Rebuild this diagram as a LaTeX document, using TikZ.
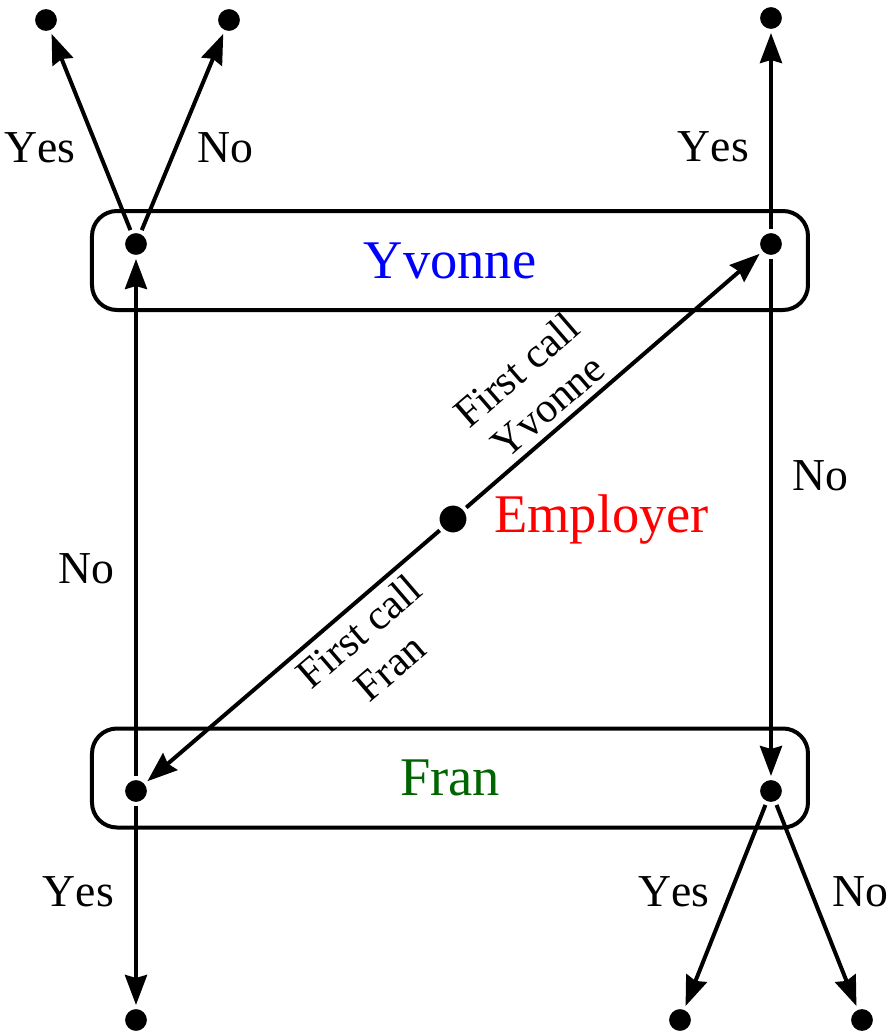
\documentclass[tikz,border=0pt]{standalone}
\usepackage{fontspec}
\IfFontExistsTF{LiberationSerif-Regular.ttf}
  {\setmainfont{LiberationSerif-Regular.ttf}[Kerning=Off]}
  {\setmainfont{Liberation Serif}[Kerning=Off]}
\usepackage{tikz}
\usetikzlibrary{arrows.meta, positioning}
\definecolor{yvblue}{HTML}{0000FF}
\definecolor{empred}{HTML}{FF0000}
\definecolor{frgreen}{HTML}{006400}

\begin{document}
\begin{tikzpicture}[
    >={Stealth[length=0.3cm, width=0.22cm, inset=0.03cm]}, line width=0.04cm,
    dot/.style={circle, fill=black, draw=white, line width=0.02cm, minimum size=0.24cm, inner sep=0pt, outer sep=0.03cm},
    bigdot/.style={dot, minimum size=0.29cm},
    playerbox/.style={rectangle, rounded corners=0.25cm, draw=black, line width=0.04cm, minimum width=7.16cm, minimum height=0.99cm, font=\fontsize{15.5}{17}\selectfont},
    lbl/.style={font=\fontsize{13}{14}\selectfont, inner sep=0.2cm},
    slbl/.style={font=\fontsize{12}{13.5}\selectfont, align=center, sloped, inner sep=2pt}
]
\useasboundingbox (0, 0) rectangle (8.89, 10.32);

% Players
\node[playerbox, text=yvblue] (ybox) at (4.50, 7.715) {Yvonne};
\node[playerbox, text=frgreen] (fbox) at (4.50, 2.54) {Fran};

% Decision nodes
\node[bigdot] (emp) at (4.53, 5.13) {};
\node[right=0.1cm of emp, text=empred, font=\fontsize{15.5}{17}\selectfont] (emplabel) {Employer};
\node[dot] (yl) at (1.36, 7.88) {};
\node[dot] (yr) at (7.71, 7.88) {};
\node[dot] (fl) at (1.36, 2.41) {};
\node[dot] (fr) at (7.71, 2.41) {};

% End nodes
\node[dot] (yyes) at (0.46, 10.12) {};
\node[dot] (yno) at (2.29, 10.12) {};
\node[dot] (yryes) at (7.71, 10.14) {};
\node[dot] (flyes) at (1.36, 0.12) {};
\node[dot] (fryes) at (6.80, 0.12) {};
\node[dot] (frno) at (8.62, 0.12) {};

% Connections
\draw[->] (emp) -- node[slbl, above, pos=0.33] {First call\\Yvonne} (yr);
\draw[->] (emp) -- node[slbl, below, pos=0.33] {First call\\Fran} (fl);

\draw[->] (fl) -- node[lbl, left, pos=0.4] {No} (yl);
\draw[->] (yr) -- node[lbl, right, pos=0.42] {No} (fr);

\draw[->] (yl) -- node[lbl, left, pos=0.42] {Yes} (yyes);
\draw[->] (yl) -- node[lbl, right, pos=0.42] {No} (yno);
\draw[->] (yr) -- node[lbl, left, pos=0.42] {Yes} (yryes);

\draw[->] (fl) -- node[lbl, left, pos=0.43] {Yes} (flyes);
\draw[->] (fr) -- node[lbl, left, pos=0.43] {Yes} (fryes);
\draw[->] (fr) -- node[lbl, right, pos=0.43] {No} (frno);
\end{tikzpicture}
\end{document}
